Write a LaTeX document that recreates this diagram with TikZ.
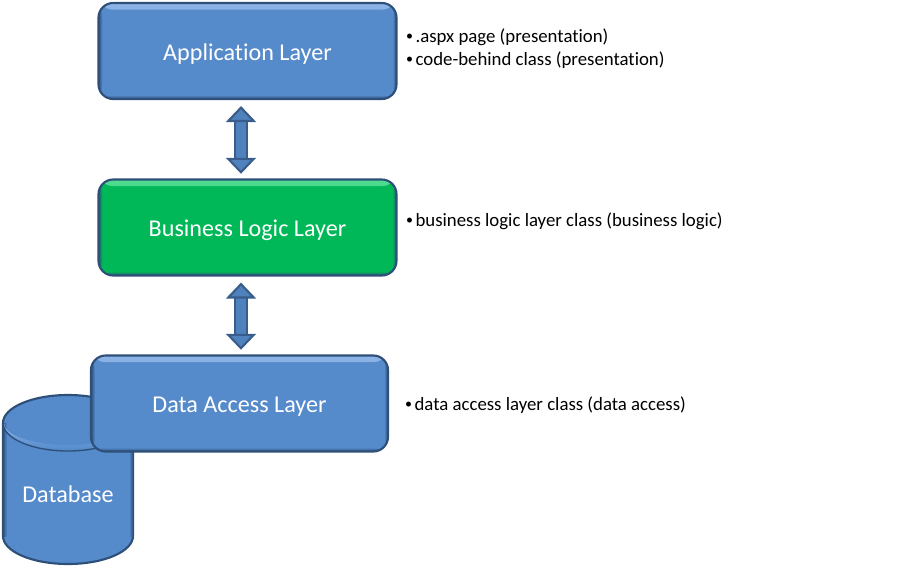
\documentclass[tikz,border=0pt]{standalone}
\usepackage{fontspec}
\setmainfont{Carlito}[Ligatures=NoCommon]
\usetikzlibrary{arrows.meta}

\definecolor{boxblue}{HTML}{558ACB}
\definecolor{boxgreen}{HTML}{00B858}
\definecolor{lightblue}{HTML}{8DB4E6}
\definecolor{lightgreen}{HTML}{50DC90}
\definecolor{edgeblue}{HTML}{2E4F78}
\definecolor{arrowblue}{HTML}{4F81BD}
\definecolor{arrowedge}{HTML}{385D8A}

\newcommand{\notedot}{\makebox[7.75pt][l]{\hspace{0.6pt}\raisebox{0.8pt}{\fontsize{10.5}{12}\selectfont •}}}

\tikzset{layerbox/.style n args={2}{draw=edgeblue, line width=1.6pt, fill=#1, text=white,
                                    rounded corners=11pt, font=\fontsize{18.1}{22}\selectfont,
                                    minimum height=96*0.75pt, inner sep=0pt,
                                    text height=14.2pt, text depth=0pt,
                                    path picture={
    \shade[top color=#2, bottom color=#1] (path picture bounding box.north west)
        rectangle ([yshift=-5pt]path picture bounding box.north east);
    \shade[top color=#1, bottom color=edgeblue] ([yshift=3pt]path picture bounding box.south west)
        rectangle (path picture bounding box.south east);
    \shade[left color=edgeblue, right color=#1] (path picture bounding box.south west)
        rectangle ([xshift=3pt]path picture bounding box.north west);
    \shade[left color=#1, right color=edgeblue] ([xshift=-3pt]path picture bounding box.south east)
        rectangle (path picture bounding box.north east);}}}
\tikzset{note/.style={anchor=base west, inner sep=0pt, text=black, font=\fontsize{14.1}{17}\selectfont}}
\tikzset{flow/.style={double=arrowblue, draw=arrowedge, line width=1.6pt, double distance=7.5pt,
                      {Triangle[length=12pt, width=22.5pt, line width=1.6pt, fill=arrowblue]}-{Triangle[length=12pt, width=22.5pt, line width=1.6pt, fill=arrowblue]}}}

\begin{document}
\begin{tikzpicture}[x=0.75pt, y=-0.75pt]

\def\xarrow{241}
\def\xdb{3}
\def\xde{133}
\def\yda{423}
\def\ydb{536}
\def\rdb{65}
\def\sdb{28}

\useasboundingbox (0,0) rectangle (901,587);

%database behind the data access layer
\draw[edgeblue, line width=1.6pt, fill=boxblue] (\xdb,\yda) -- (\xdb,\ydb)
    arc[start angle=180, end angle=360, x radius=\rdb, y radius=-\sdb] -- (\xde,\yda)
    arc[start angle=0, end angle=180, x radius=\rdb, y radius=-\sdb] -- cycle;
\shade[left color=edgeblue, right color=boxblue] (\xdb,\yda) rectangle (\xdb+4,\ydb);
\shade[left color=boxblue, right color=edgeblue] (\xde-4,\yda) rectangle (\xde,\ydb);
\shade[top color=lightblue, bottom color=boxblue] (\xdb+1,\yda)
    arc[start angle=180, end angle=0, x radius=\rdb-1, y radius=\sdb-1]
    arc[start angle=0, end angle=180, x radius=\rdb-1, y radius=\sdb-6];
\draw[edgeblue, line width=1pt] (\xdb,\yda)
    arc[start angle=180, end angle=360, x radius=\rdb, y radius=-\sdb];
\node[text=white, font=\fontsize{18.1}{22}\selectfont] (db) at (68,494) {Database};

%layers
\node[layerbox={boxblue}{lightblue}, minimum width=298*0.75pt] (app) at (247.5,51) {Application Layer};
\node[layerbox={boxgreen}{lightgreen}, minimum width=298*0.75pt] (biz) at (247.5,227.5) {Business Logic Layer};
\node[layerbox={boxblue}{lightblue}, minimum width=297*0.75pt] (dal) at (239.5,403.5) {Data Access Layer};

%arrows between the layers
\draw[flow, shorten <=4.5pt, shorten >=3.5pt] (\xarrow,0 |- app.south) -- (\xarrow,0 |- biz.north);
\draw[flow, shorten <=4.5pt, shorten >=3.5pt] (\xarrow,0 |- biz.south) -- (\xarrow,0 |- dal.north);

%notes
\node[note] (aspx) at (405,42) {\notedot.aspx page (presentation)};
\node[note] (code) at (405,65) {\notedot code-behind class (presentation)};
\node[note] (blc)  at (405,226) {\notedot business logic layer class (business logic)};
\node[note] (dac)  at (404,410) {\notedot data access layer class (data access)};

\end{tikzpicture}
\end{document}
